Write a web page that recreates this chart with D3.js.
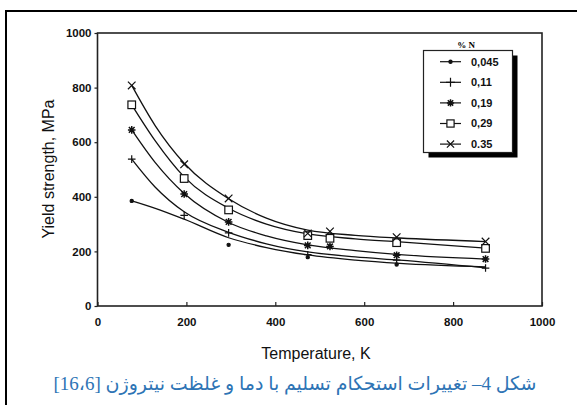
<!DOCTYPE html>
<html lang="fa">
<head>
    <meta charset="UTF-8">
    <script src="https://d3js.org/d3.v7.min.js"></script>
    <title>Yield strength vs temperature</title>
    <style>
        body { margin: 0; background: #fff; }
        svg { display: block; }
        .tick text { font-family: "Liberation Sans", Arial, sans-serif; font-weight: bold; font-size: 11.5px; fill: #111; }
    </style>
</head>
<body>
<div id="chart"></div>
<script>
    // measured points (K, MPa)
    let seriesNames = ['0,045', '0,11', '0,19', '0,29', '0.35']
    let markerTypes = ['dot', 'plus', 'star', 'square', 'cross']
    let tempsDot = [77, 295, 473, 673]
    let valuesDot = [385, 224, 179, 152]
    let tempsPlus = [77, 195, 295, 473, 673, 873]
    let valuesPlus = [538, 332, 268, 188, 168, 139]
    let tempsStar = [77, 195, 295, 473, 523, 673, 873]
    let valuesStar = [645, 410, 308, 222, 218, 186, 172]
    let tempsSquare = [77, 195, 295, 473, 523, 673, 873]
    let valuesSquare = [737, 467, 352, 258, 248, 232, 211]
    let tempsCross = [77, 195, 295, 473, 523, 673, 873]
    let valuesCross = [808, 519, 394, 266, 273, 252, 236]

    // fitted curves
    let fitTemps = [77, 130, 195, 295, 380, 473, 580, 680, 873]
    let fitDot = [385, 358, 318, 250, 214, 187, 168, 156, 143]
    let fitPlus = [538, 435, 345, 270, 228, 198, 180, 168, 140]
    let fitStar = [645, 525, 412, 306, 257, 224, 203, 188, 172]
    let fitSquare = [737, 605, 473, 358, 300, 264, 246, 235, 212]
    let fitCross = [808, 660, 523, 393, 322, 278, 259, 249, 236]

    let xTicks = [0, 200, 400, 600, 800, 1000]
    let yTicks = [0, 200, 400, 600, 800, 1000]

    let vm = {}
    init(vm)
    drawAxes(vm)
    drawSeries(vm)
    drawLegend(vm)
    drawText(vm)

    function init(vm) {
        vm.svg = d3.select('#chart').append('svg')
            .attr('width', 577).attr('height', 405)
        vm.x = d3.scaleLinear().domain([0, 1000]).range([97.5, 542])
        vm.y = d3.scaleLinear().domain([0, 1000]).range([306, 33])
        vm.series = [
            {temps: tempsDot, values: valuesDot, fit: fitDot},
            {temps: tempsPlus, values: valuesPlus, fit: fitPlus},
            {temps: tempsStar, values: valuesStar, fit: fitStar},
            {temps: tempsSquare, values: valuesSquare, fit: fitSquare},
            {temps: tempsCross, values: valuesCross, fit: fitCross}
        ]
        // figure frame (top + left)
        vm.svg.append('path').attr('d', 'M6,405V11H577')
            .attr('fill', 'none').attr('stroke', '#000').attr('stroke-width', 2)
    }

    function drawAxes(vm) {
        let xAxis = d3.axisBottom(vm.x).tickValues(xTicks).tickFormat(d3.format('d')).tickSize(-4).tickPadding(12)
        let yAxis = d3.axisLeft(vm.y).tickValues(yTicks).tickFormat(d3.format('d')).tickSize(3).tickPadding(3)
        vm.svg.append('g').attr('transform', 'translate(0,' + vm.y(0) + ')').call(xAxis)
            .call(g => g.select('.domain').remove())
        vm.svg.append('g').attr('transform', 'translate(' + vm.x(0) + ',0)').call(yAxis)
            .call(g => g.select('.domain').remove())
        vm.svg.selectAll('.tick line').attr('stroke', '#222').attr('stroke-width', 1.2)
        // plot box
        vm.svg.append('rect')
            .attr('x', vm.x(0)).attr('y', vm.y(1000))
            .attr('width', vm.x(1000) - vm.x(0)).attr('height', vm.y(0) - vm.y(1000))
            .attr('fill', 'none').attr('stroke', '#222').attr('stroke-width', 1.6)
    }

    function marker(g, type, s) {
        if (type === 'dot') {
            g.append('circle').attr('r', 1.6).attr('fill', '#111')
        } else if (type === 'plus') {
            g.append('path').attr('d', 'M' + -s + ',0H' + s + 'M0,' + -s + 'V' + s)
        } else if (type === 'star') {
            let d = s * 0.75
            g.append('path').attr('d', 'M' + -s + ',0H' + s + 'M0,' + -s + 'V' + s +
                'M' + -d + ',' + -d + 'L' + d + ',' + d + 'M' + -d + ',' + d + 'L' + d + ',' + -d)
                .attr('stroke-width', 1.5)
        } else if (type === 'square') {
            g.append('rect').attr('x', -s).attr('y', -s).attr('width', 2 * s).attr('height', 2 * s)
                .attr('fill', '#fff')
        } else if (type === 'cross') {
            g.append('path').attr('d', 'M' + -s + ',' + -s + 'L' + s + ',' + s + 'M' + -s + ',' + s + 'L' + s + ',' + -s)
        }
    }

    function drawSeries(vm) {
        let line = d3.line()
            .x(d => vm.x(d[0]))
            .y(d => vm.y(d[1]))
            .curve(d3.curveMonotoneX)
        vm.series.forEach((s, i) => {
            vm.svg.append('path')
                .datum(fitTemps.map((t, j) => [t, s.fit[j]]))
                .attr('d', line)
                .attr('fill', 'none').attr('stroke', '#111').attr('stroke-width', 1.3)
        })
        vm.series.forEach((s, i) => {
            s.temps.forEach((t, j) => {
                let g = vm.svg.append('g')
                    .attr('transform', 'translate(' + vm.x(t) + ',' + vm.y(s.values[j]) + ')')
                    .attr('stroke', '#111').attr('stroke-width', 1.2).attr('fill', 'none')
                marker(g, markerTypes[i], 3.8)
            })
        })
    }

    function drawLegend(vm) {
        let lx = 423.5, ly = 50.5, lw = 89, lh = 102
        let lg = vm.svg.append('g')
        lg.append('rect').attr('x', lx + 5).attr('y', ly + 5).attr('width', lw).attr('height', lh).attr('fill', '#000')
        lg.append('rect').attr('x', lx).attr('y', ly).attr('width', lw).attr('height', lh)
            .attr('fill', '#fff').attr('stroke', '#222').attr('stroke-width', 1.2)
        lg.append('text').attr('x', 466).attr('y', 47.5).attr('text-anchor', 'middle')
            .style('font-family', '"Liberation Serif", serif').style('font-weight', 'bold').style('font-size', '9px')
            .text('% N')
        seriesNames.forEach((name, i) => {
            let cy = 61.7 + i * 20.6
            lg.append('line').attr('x1', 440).attr('x2', 461).attr('y1', cy).attr('y2', cy)
                .attr('stroke', '#111').attr('stroke-width', 1.2)
            let g = lg.append('g').attr('transform', 'translate(450.5,' + cy + ')')
                .attr('stroke', '#111').attr('stroke-width', 1.2).attr('fill', 'none')
            marker(g, markerTypes[i], markerTypes[i] === 'plus' ? 4.5 : 3.6)
            lg.append('text').attr('x', 471).attr('y', cy).attr('dy', '0.36em')
                .style('font-family', '"Liberation Sans", Arial, sans-serif').style('font-weight', 'bold')
                .style('font-size', '11px').attr('fill', '#111')
                .text(name)
        })
    }

    function drawText(vm) {
        vm.svg.append('text')
            .attr('transform', 'translate(54,169) rotate(-90)')
            .attr('text-anchor', 'middle')
            .style('font-family', '"Liberation Sans", Arial, sans-serif').style('font-size', '16px')
            .attr('fill', '#111')
            .text('Yield strength, MPa')
        vm.svg.append('text')
            .attr('x', 316).attr('y', 358.5).attr('text-anchor', 'middle')
            .style('font-family', '"Liberation Sans", Arial, sans-serif').style('font-size', '16px')
            .attr('fill', '#111')
            .text('Temperature, K')
        vm.svg.append('text')
            .attr('x', 295).attr('y', 390).attr('text-anchor', 'middle')
            .attr('direction', 'rtl')
            .style('font-family', '"Liberation Serif", "DejaVu Sans", serif').style('font-size', '19px')
            .attr('fill', '#2e74b5')
            .text('شکل 4– تغییرات استحکام تسلیم با دما و غلظت نیتروژن [16،6]')
    }
</script>
</body>
</html>
